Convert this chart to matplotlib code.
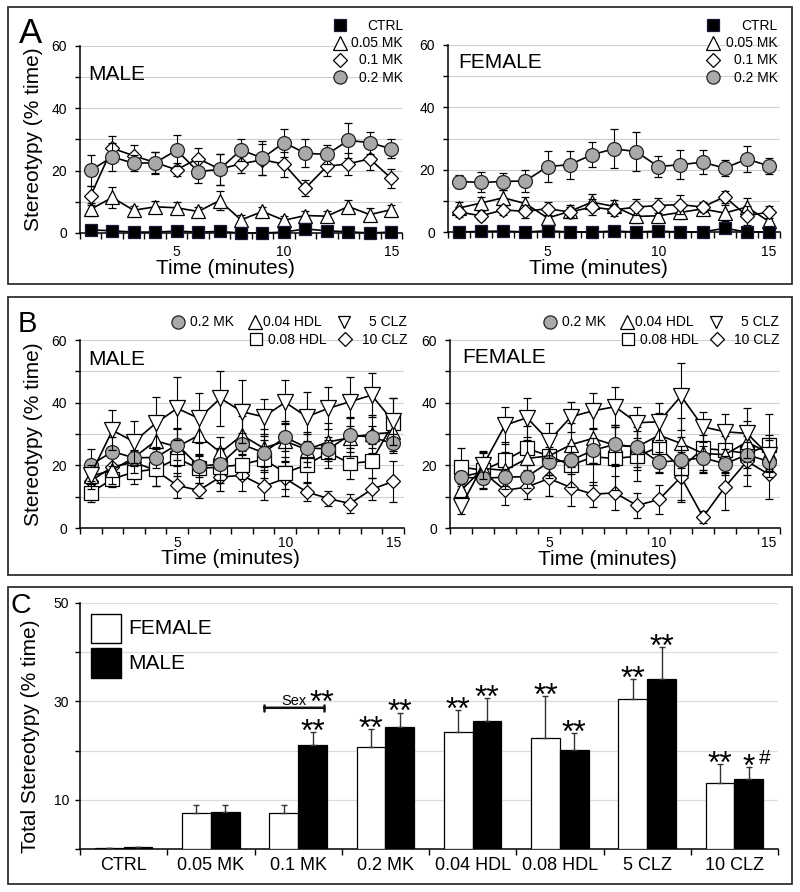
import numpy as np
import matplotlib
matplotlib.use("Agg")
import matplotlib.pyplot as plt
from matplotlib.lines import Line2D
from matplotlib.patches import Rectangle

plt.rcParams['font.family'] = ['Liberation Sans', 'DejaVu Sans']

# ---------------- data ----------------
minutes = [1, 2, 3, 4, 5, 6, 7, 8, 9, 10, 11, 12, 13, 14, 15]

# Panel A - male
ctrl_m = [1.0, 0.7, 0.3, 0.3, 0.6, 0.3, 0.5, 0.0, 0.0, 0.3, 1.3, 0.7, 0.4, 0.0, 0.3]
ctrl_m_err = [0.6, 0.5, 0.5, 0.5, 0.5, 0.5, 0.5, 0.5, 0.5, 0.5, 0.6, 0.5, 0.5, 0.5, 0.5]
mk005_m = [7.6, 11.4, 7.3, 8.4, 8.1, 6.9, 10.4, 4.2, 6.9, 4.1, 5.6, 5.4, 8.5, 5.9, 7.5]
mk005_m_err = [2.0, 3.5, 1.5, 2.0, 2.0, 1.5, 3.0, 1.5, 1.5, 1.5, 1.5, 1.5, 2.0, 2.0, 1.5]
mk01_m = [12.0, 27.2, 24.8, 22.6, 20.3, 23.9, 20.5, 22.2, 23.5, 22.1, 14.4, 21.4, 22.2, 23.8, 17.5]
mk01_m_err = [3.0, 4.0, 3.5, 3.5, 2.0, 3.5, 5.0, 3.0, 5.0, 4.0, 2.5, 3.0, 3.5, 3.5, 3.0]
mk02_m = [20.1, 24.4, 22.4, 22.5, 26.6, 19.7, 20.4, 26.7, 24.0, 29.0, 25.6, 25.2, 29.7, 29.0, 27.0]
mk02_m_err = [5.0, 4.5, 2.5, 3.5, 5.0, 3.5, 5.0, 3.5, 5.5, 4.5, 4.5, 3.0, 5.5, 3.5, 3.0]

# Panel A - female
ctrl_f = [0.0, 0.2, 0.3, 0.0, 0.4, 0.0, 0.0, 0.3, 0.0, 0.3, 0.0, 0.0, 1.2, 0.0, 0.0]
ctrl_f_err = [0.4, 0.4, 0.4, 0.4, 0.4, 0.4, 0.4, 0.4, 0.4, 0.4, 0.4, 0.4, 0.5, 0.4, 0.4]
mk005_f = [7.7, 9.3, 11.0, 9.1, 4.5, 6.6, 9.6, 8.2, 5.0, 5.2, 6.3, 7.4, 6.1, 8.0, 3.4]
mk005_f_err = [2.0, 2.0, 2.5, 2.0, 2.0, 2.0, 2.5, 2.0, 2.0, 2.0, 2.0, 2.0, 2.5, 3.0, 2.0]
mk01_f = [6.4, 5.2, 7.1, 6.6, 7.5, 6.4, 8.0, 7.1, 8.0, 8.5, 8.8, 8.0, 11.3, 5.2, 6.4]
mk01_f_err = [1.5, 1.5, 1.5, 2.0, 2.0, 1.5, 2.5, 2.0, 2.5, 2.5, 3.0, 1.5, 2.0, 3.0, 2.0]
mk02_f = [16.2, 15.9, 16.2, 16.4, 21.0, 21.6, 24.8, 26.7, 25.8, 21.0, 21.6, 22.4, 20.5, 23.4, 21.2]
mk02_f_err = [2.0, 3.2, 2.7, 3.6, 5.0, 4.5, 4.0, 6.3, 6.3, 3.4, 4.6, 3.9, 2.6, 4.2, 2.5]

# Panel B - male
hdl004_m = [16.5, 18.5, 22.5, 27.8, 25.9, 29.6, 24.1, 29.6, 25.5, 27.7, 25.0, 27.5, 28.8, 30.0, 30.5]
hdl004_m_err = [4.0, 4.5, 5.0, 6.0, 6.0, 6.5, 5.0, 6.0, 6.0, 6.5, 5.5, 6.0, 6.5, 6.0, 6.0]
clz5_m = [17.0, 31.2, 27.5, 33.4, 38.2, 35.0, 41.4, 37.1, 35.5, 40.1, 35.5, 38.2, 40.3, 42.4, 34.0]
clz5_m_err = [3.0, 6.4, 6.7, 8.3, 10.0, 8.0, 8.7, 10.0, 5.6, 7.0, 7.8, 6.7, 7.8, 7.0, 7.4]
hdl008_m = [11.3, 15.6, 17.9, 18.8, 22.2, 19.0, 19.5, 20.2, 22.0, 17.6, 20.2, 24.1, 20.6, 21.3, 33.4]
hdl008_m_err = [3.0, 2.5, 4.0, 5.5, 5.5, 4.5, 5.0, 4.5, 6.0, 5.0, 5.5, 5.0, 5.0, 5.5, 8.0]
clz10_m = [15.0, 19.5, 21.0, 18.4, 13.6, 12.0, 16.3, 16.8, 13.3, 15.8, 11.5, 9.4, 7.8, 12.3, 14.9]
clz10_m_err = [3.0, 3.5, 3.5, 5.0, 4.0, 2.5, 4.5, 5.0, 4.5, 5.5, 3.0, 2.5, 3.0, 3.5, 6.5]

# Panel B - female
hdl004_f = [12.0, 19.0, 18.4, 22.2, 23.0, 26.6, 28.6, 26.4, 25.9, 29.6, 27.0, 23.8, 23.4, 27.5, 23.8]
hdl004_f_err = [4.0, 5.0, 6.0, 6.0, 6.0, 7.0, 8.0, 6.5, 7.5, 7.0, 8.0, 6.0, 6.0, 6.5, 6.0]
clz5_f = [6.9, 20.0, 32.8, 35.2, 27.8, 35.5, 37.4, 38.7, 33.6, 33.9, 42.1, 32.3, 30.7, 30.2, 23.2]
clz5_f_err = [2.5, 4.5, 5.9, 6.2, 5.6, 4.8, 5.6, 6.4, 4.9, 5.9, 10.7, 4.8, 5.6, 8.0, 5.0]
hdl008_f = [19.5, 18.4, 21.6, 25.4, 23.0, 20.0, 22.7, 22.2, 22.9, 25.9, 19.0, 25.4, 24.8, 23.8, 26.4]
hdl008_f_err = [6.0, 6.0, 6.0, 7.0, 6.0, 7.0, 9.0, 10.0, 8.0, 8.0, 10.0, 8.0, 8.0, 7.0, 10.0]
clz10_f = [16.3, 17.9, 12.0, 13.1, 15.8, 12.9, 10.8, 11.2, 7.2, 9.1, 16.3, 3.5, 13.1, 21.3, 17.1]
clz10_f_err = [4.0, 4.0, 4.5, 4.0, 5.5, 6.0, 4.0, 5.5, 4.0, 4.5, 8.0, 2.0, 7.5, 8.0, 8.0]

# Panel C
categories = ['CTRL', '0.05 MK', '0.1 MK', '0.2 MK', '0.04 HDL', '0.08 HDL', '5 CLZ', '10 CLZ']
total_f = [0.2, 7.4, 7.4, 20.8, 23.7, 22.5, 30.4, 13.5]
total_f_err = [0.1, 1.5, 1.5, 3.5, 4.5, 8.6, 4.1, 3.7]
total_m = [0.4, 7.6, 21.2, 24.7, 26.1, 20.2, 34.6, 14.2]
total_m_err = [0.1, 1.4, 2.5, 3.0, 4.5, 3.3, 6.4, 2.5]
sig_f = ['', '', '', '**', '**', '**', '**', '**']
sig_m = ['', '', '**', '**', '**', '**', '**', '*']
hash_m = ['', '', '', '', '', '', '', '#']
sex_bracket = (1.61, 2.30, 28.7)

ytick_vals = [0, 10, 20, 30, 40, 50, 60]
ytick_labels = ['0', '', '20', '', '40', '', '60']
xtick_vals = [5, 10, 15]
c_ytick_vals = [0, 10, 20, 30, 40, 50]
c_ytick_labels = ['', '10', '', '30', '', '50']

# ---------------- styles ----------------
GRAY = '#a9a9a9'
GRID = '#cfcfcf'
STY = {
    'ctrl':   dict(marker='s', mfc='black', ms=8.5, mec='#1a1a3a'),
    'mk005':  dict(marker='^', mfc='white', ms=10.5, mec='black'),
    'mk01':   dict(marker='D', mfc='white', ms=7.5, mec='black'),
    'mk02':   dict(marker='o', mfc=GRAY, ms=10, mec='#222222'),
    'hdl004': dict(marker='^', mfc='white', ms=10.5, mec='black'),
    'hdl008': dict(marker='s', mfc='white', ms=9.5, mec='black'),
    'clz5':   dict(marker='v', mfc='white', ms=11, mec='black'),
    'clz10':  dict(marker='D', mfc='white', ms=7.5, mec='black'),
}

W, H = 800, 892
fig = plt.figure(figsize=(W / 100, H / 100), dpi=100)


def fx(x):
    return x / W


def fy(y):
    return 1 - y / H


def rect(x0, x1, ytop, ybot):
    return [x0 / W, 1 - ybot / H, (x1 - x0) / W, (ybot - ytop) / H]


# panel frames
for (x0, y0, x1, y1) in [(8, 7, 792, 284), (8, 297, 792, 575), (8, 587, 792, 884)]:
    fig.add_artist(Rectangle((fx(x0), fy(y1)), (x1 - x0) / W, (y1 - y0) / H,
                             transform=fig.transFigure, fill=False,
                             ec='#303030', lw=1.3))


def series(ax, y, e, key, z):
    c = ax.errorbar(minutes, y, yerr=e, color='black', lw=1.2,
                    elinewidth=0.8, capsize=2.6, capthick=0.8, mew=0.9,
                    zorder=z, **STY[key])
    for a in c.get_children():
        a.set_clip_on(False)
    c.lines[0].set_clip_on(False)


def style_time_axes(ax, xlab, tickpad, ylab=True):
    ax.set_facecolor('none')
    ax.set_xlim(0.5, 15.5)
    ax.set_ylim(0, 60)
    for s in ('top', 'right'):
        ax.spines[s].set_visible(False)
    for s in ('left', 'bottom'):
        ax.spines[s].set_linewidth(1.1)
    ax.set_yticks(ytick_vals)
    ax.set_yticklabels(ytick_labels, fontsize=10)
    ax.tick_params(axis='y', length=3.5, width=1, pad=6)
    ax.set_xticks(xtick_vals)
    ax.set_xticklabels([str(v) for v in xtick_vals], fontsize=10)
    ax.set_xticks(np.arange(0.5, 16, 1), minor=True)
    ax.tick_params(axis='x', which='major', length=0, pad=tickpad)
    ax.tick_params(axis='x', which='minor', length=4, width=1, direction='out')
    ax.yaxis.grid(True, color=GRID, lw=0.8)
    ax.set_axisbelow(True)
    ax.set_xlabel('Time (minutes)', fontsize=15)
    ax.xaxis.set_label_coords(xlab[0], xlab[1])
    ax.xaxis.label.set_va('center')
    if ylab:
        ax.set_ylabel('Stereotypy (% time)', fontsize=15)
        ax.yaxis.set_label_coords(-0.143, 0.5)
        ax.yaxis.label.set_va('center')


def legend_marker(x, y, key, ms_scale=1.0):
    st = dict(STY[key])
    st['ms'] = st['ms'] * ms_scale
    fig.add_artist(Line2D([fx(x)], [fy(y)], transform=fig.transFigure,
                          ls='none', mew=0.9, **st))


# ---------------- Panel A ----------------
axA1 = fig.add_axes(rect(80, 402, 46, 233))
axA2 = fig.add_axes(rect(448, 780, 45, 232))
for ax, d in ((axA1, (ctrl_m, ctrl_m_err, mk005_m, mk005_m_err, mk01_m, mk01_m_err, mk02_m, mk02_m_err)),
              (axA2, (ctrl_f, ctrl_f_err, mk005_f, mk005_f_err, mk01_f, mk01_f_err, mk02_f, mk02_f_err))):
    series(ax, d[0], d[1], 'ctrl', 5)
    series(ax, d[2], d[3], 'mk005', 3)
    series(ax, d[4], d[5], 'mk01', 4)
    series(ax, d[6], d[7], 'mk02', 6)
style_time_axes(axA1, (0.453, -0.19), 9)
style_time_axes(axA2, (0.453, -0.195), 9, ylab=False)
axA1.text(0.025, 0.85, 'MALE', transform=axA1.transAxes, fontsize=15, va='center')
axA2.text(0.03, 0.905, 'FEMALE', transform=axA2.transAxes, fontsize=15, va='center')

for off, xr in ((0, 403), (373, 778)):
    rows = [(25, 'ctrl', 'CTRL'), (42.5, 'mk005', '0.05 MK'),
            (60, 'mk01', '0.1 MK'), (77, 'mk02', '0.2 MK')]
    for y, key, lab in rows:
        legend_marker(340 + off, y, key, 0.95)
        fig.text(fx(xr), fy(y + 0.5), lab, ha='right', va='center', fontsize=10)

# ---------------- Panel B ----------------
axB1 = fig.add_axes(rect(80, 404, 340, 528))
axB2 = fig.add_axes(rect(450, 780, 340, 528))
for ax, d in ((axB1, (clz10_m, clz10_m_err, hdl008_m, hdl008_m_err, hdl004_m, hdl004_m_err,
                      mk02_m, mk02_m_err, clz5_m, clz5_m_err)),
              (axB2, (clz10_f, clz10_f_err, hdl008_f, hdl008_f_err, hdl004_f, hdl004_f_err,
                      mk02_f, mk02_f_err, clz5_f, clz5_f_err))):
    series(ax, d[0], d[1], 'clz10', 3)
    series(ax, d[2], d[3], 'hdl008', 4)
    series(ax, d[4], d[5], 'hdl004', 5)
    series(ax, d[6], d[7], 'mk02', 6)
    series(ax, d[8], d[9], 'clz5', 7)
style_time_axes(axB1, (0.463, -0.162), 6.0)
style_time_axes(axB2, (0.477, -0.165), 6.0, ylab=False)
axB1.text(0.025, 0.896, 'MALE', transform=axB1.transAxes, fontsize=15, va='center')
axB2.text(0.036, 0.907, 'FEMALE', transform=axB2.transAxes, fontsize=15, va='center')

for off in (0, 372):
    legend_marker(178 + off, 322, 'mk02', 0.95)
    fig.text(fx(190 + off), fy(322.5), '0.2 MK', ha='left', va='center', fontsize=10)
    legend_marker(255 + off, 322, 'hdl004', 0.95)
    fig.text(fx(263 + off), fy(322.5), '0.04 HDL', ha='left', va='center', fontsize=10)
    legend_marker(344 + off, 322, 'clz5', 0.85)
    fig.text(fx(407 + off), fy(322.5), '5 CLZ', ha='right', va='center', fontsize=10)
    legend_marker(256 + off, 339, 'hdl008', 0.9)
    fig.text(fx(268 + off), fy(339.5), '0.08 HDL', ha='left', va='center', fontsize=10)
    legend_marker(345 + off, 339, 'clz10', 0.95)
    fig.text(fx(407 + off), fy(339.5), '10 CLZ', ha='right', va='center', fontsize=10)

# ---------------- Panel C ----------------
axC = fig.add_axes(rect(80, 778, 603, 849))
axC.set_facecolor('none')
n = len(categories)
xc = np.arange(n)
bw = 0.33
axC.bar(xc - bw / 2, total_f, width=bw, color='white', edgecolor='black', lw=0.9, zorder=3)
axC.bar(xc + bw / 2, total_m, width=bw, color='black', edgecolor='black', lw=0.9, zorder=3)
zeros = [0] * n
axC.errorbar(xc - bw / 2, total_f, yerr=[zeros, total_f_err], fmt='none',
             ecolor='#333333', elinewidth=1.0, capsize=2.5, capthick=1.0, zorder=4)
axC.errorbar(xc + bw / 2, total_m, yerr=[zeros, total_m_err], fmt='none',
             ecolor='#333333', elinewidth=1.0, capsize=2.5, capthick=1.0, zorder=4)
axC.set_xlim(-0.5, n - 0.5)
axC.set_ylim(0, 50)
for s in ('top', 'right'):
    axC.spines[s].set_visible(False)
for s in ('left', 'bottom'):
    axC.spines[s].set_linewidth(1.1)
axC.set_yticks(c_ytick_vals)
axC.set_yticklabels(c_ytick_labels, fontsize=10)
axC.tick_params(axis='y', length=3.5, width=1, pad=4.5)
axC.set_xticks(xc)
axC.set_xticklabels(categories, fontsize=13)
axC.set_xticks(np.arange(-0.5, n, 1), minor=True)
axC.tick_params(axis='x', which='major', length=0, pad=6)
axC.tick_params(axis='x', which='minor', length=4, width=1, direction='out')
axC.yaxis.grid(True, color='#dcdcdc', lw=0.9)
axC.set_axisbelow(True)
axC.set_ylabel('Total Stereotypy (% time)', fontsize=15)
axC.yaxis.set_label_coords(-0.0716, 0.46)
axC.yaxis.label.set_va('center')

for i in range(n):
    if sig_f[i]:
        axC.annotate(sig_f[i], xy=(xc[i] - bw / 2, total_f[i] + total_f_err[i]),
                     xytext=(0, -6.2), textcoords='offset points',
                     ha='center', va='baseline', fontsize=23, zorder=5)
    if sig_m[i]:
        axC.annotate(sig_m[i], xy=(xc[i] + bw / 2, total_m[i] + total_m_err[i]),
                     xytext=(0, -6.2), textcoords='offset points',
                     ha='center', va='baseline', fontsize=23, zorder=5)
    if hash_m[i]:
        axC.annotate(hash_m[i], xy=(xc[i] + bw / 2, total_m[i] + total_m_err[i]),
                     xytext=(11.5, 1.8), textcoords='offset points',
                     ha='center', va='baseline', fontsize=15, zorder=5)

bx0, bx1, by = sex_bracket
axC.annotate('', xy=(bx0, by), xytext=(bx1, by),
             arrowprops=dict(arrowstyle='|-|, widthA=0.22, widthB=0.22', lw=1.8,
                             color='#111111', shrinkA=0, shrinkB=0))
axC.text((bx0 + bx1) / 2, by + 0.5, 'Sex', ha='center', va='baseline', fontsize=10.5)
axC.annotate('**', xy=(bx1 - 0.03, by), xytext=(0, -2.6), textcoords='offset points',
             ha='center', va='baseline', fontsize=23)

# legend in C
for (yt, yb, col, lab) in ((614, 643, 'white', 'FEMALE'), (648, 678, 'black', 'MALE')):
    fig.add_artist(Rectangle((fx(91), fy(yb)), 30 / W, (yb - yt) / H,
                             transform=fig.transFigure, fc=col, ec='black', lw=1.0))
    fig.text(fx(128), fy((yt + yb) / 2 + 0.5), lab, ha='left', va='center', fontsize=15)

# panel letters
fig.text(fx(19), fy(43), 'A', fontsize=25, ha='left', va='baseline')
fig.text(fx(18), fy(332), 'B', fontsize=21, ha='left', va='baseline')
fig.text(fx(11), fy(613), 'C', fontsize=20.5, ha='left', va='baseline')

fig.savefig('out.png', dpi=100)
